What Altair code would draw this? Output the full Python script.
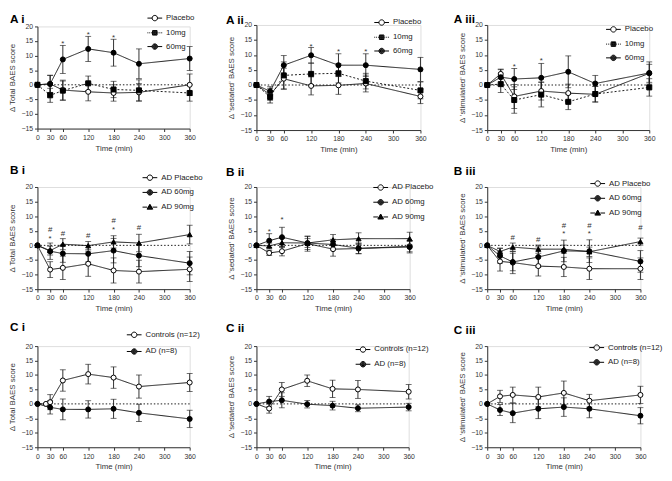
import altair as alt
import pandas as pd

# ---------------- data ----------------
TIMES = [0, 30, 60, 120, 180, 240, 360]
TIMES_CI_CONTROLS = [0, 20, 30, 60, 120, 180, 240, 360]
X_TICKS = [0, 30, 60, 120, 180, 240, 300, 360]
Y_TICKS = [-15, -10, -5, 0, 5, 10, 15, 20]

A_NAMES = ["Placebo", "10mg", "60mg"]
A_KINDS = ["open", "square", "filled"]
B_NAMES = ["AD Placebo", "AD 60mg", "AD 90mg"]
B_KINDS = ["open", "filled", "triangle"]
C_NAMES = ["Controls (n=12)", "AD (n=8)"]
C_KINDS = ["open", "filled"]

# A i  - total
AI_PLACEBO = [0, 0.3, -1.8, -2.4, -2.8, -2.6, 0.0]
AI_PLACEBO_SEM = [0, 3.0, 3.4, 3.1, 2.8, 3.0, 3.7]
AI_10MG = [0, -3.6, -2.0, 0.5, -1.6, -1.9, -2.8]
AI_10MG_SEM = [0, 2.4, 3.3, 2.5, 2.8, 3.6, 2.8]
AI_60MG = [0, 0.3, 8.7, 12.3, 11.0, 7.2, 9.0]
AI_60MG_SEM = [0, 2.9, 4.8, 4.3, 4.6, 5.1, 4.1]
AI_SIG_T = [60, 120, 180]
AI_SIG_Y = [14.8, 17.6, 16.6]
AI_SIG_TXT = ["*", "*", "*"]

# A ii - sedated
AII_PLACEBO = [0, -3.2, 2.1, -0.3, -0.1, 0.5, -3.8]
AII_PLACEBO_SEM = [0, 2.0, 3.5, 3.0, 3.0, 2.8, 2.4]
AII_10MG = [0, -4.0, 3.2, 3.7, 3.9, 1.3, -1.8]
AII_10MG_SEM = [0, 2.0, 4.5, 3.6, 3.2, 2.6, 2.8]
AII_60MG = [0, -2.1, 6.6, 9.9, 6.6, 6.6, 5.2]
AII_60MG_SEM = [0, 1.5, 3.2, 2.6, 3.8, 3.8, 4.0]
AII_SIG_T = [120, 180, 240]
AII_SIG_Y = [13.4, 11.6, 11.6]
AII_SIG_TXT = ["*", "*", "*"]

# A iii - stimulated
AIII_PLACEBO = [0, 3.7, -3.8, -2.0, -2.7, -3.1, 3.9]
AIII_PLACEBO_SEM = [0, 1.6, 4.0, 3.0, 3.0, 2.6, 3.0]
AIII_10MG = [0, 0.3, -5.0, -3.2, -5.6, -3.0, -0.8]
AIII_10MG_SEM = [0, 2.8, 4.4, 4.1, 2.6, 2.6, 2.9]
AIII_60MG = [0, 2.6, 2.0, 2.4, 4.4, 0.5, 4.0]
AIII_60MG_SEM = [0, 2.5, 3.5, 4.8, 5.3, 2.7, 3.7]
AIII_SIG_T = [60, 120]
AIII_SIG_Y = [6.7, 8.5]
AIII_SIG_TXT = ["*", "*"]

# B i  - total (AD)
BI_PLACEBO = [0, -8.3, -7.7, -6.3, -8.6, -9.0, -8.2]
BI_PLACEBO_SEM = [0, 2.7, 4.0, 4.3, 4.3, 3.9, 4.2]
BI_60MG = [0, -2.0, -2.8, -2.9, -1.8, -3.5, -6.1]
BI_60MG_SEM = [0, 2.8, 3.0, 2.8, 4.2, 3.8, 4.0]
BI_90MG = [0, -1.8, 0.4, -0.1, 1.2, 0.8, 3.7]
BI_90MG_SEM = [0, 1.5, 1.9, 1.4, 2.1, 3.0, 3.2]
BI_SIG_T = [30, 30, 60, 120, 180, 180, 240]
BI_SIG_Y = [5.8, 2.8, 4.5, 3.7, 9.0, 5.9, 6.6]
BI_SIG_TXT = ["#", "*", "#", "#", "#", "*", "#"]

# B ii - sedated (AD)
BII_PLACEBO = [0, -2.6, -2.0, 0.6, -1.3, -1.1, -0.3]
BII_PLACEBO_SEM = [0, 0.9, 1.6, 2.6, 2.4, 1.8, 1.9]
BII_60MG = [0, 1.6, 2.8, 0.8, 0.3, -1.0, -0.6]
BII_60MG_SEM = [0, 2.4, 3.4, 2.2, 1.8, 1.8, 2.0]
BII_90MG = [0, -0.2, 0.9, 0.8, 1.9, 2.3, 2.3]
BII_90MG_SEM = [0, 1.0, 1.5, 1.5, 1.8, 2.0, 2.2]
BII_SIG_T = [30, 60]
BII_SIG_Y = [5.3, 9.5]
BII_SIG_TXT = ["*", "*"]

# B iii - stimulated (AD)
BIII_PLACEBO = [0, -5.5, -5.9, -7.1, -7.4, -8.0, -8.0]
BIII_PLACEBO_SEM = [0, 3.3, 3.8, 3.4, 3.3, 3.7, 3.7]
BIII_60MG = [0, -3.6, -5.7, -4.0, -1.9, -2.0, -5.5]
BIII_60MG_SEM = [0, 2.5, 3.0, 3.5, 3.7, 3.9, 3.7]
BIII_90MG = [0, -2.1, -0.6, -1.3, -1.3, -2.2, 1.3]
BIII_90MG_SEM = [0, 1.2, 1.4, 1.4, 1.4, 1.6, 1.2]
BIII_SIG_T = [60, 120, 180, 180, 240, 240, 360]
BIII_SIG_Y = [3.3, 2.5, 7.4, 4.4, 7.4, 4.5, 6.7]
BIII_SIG_TXT = ["#", "#", "#", "*", "#", "*", "#"]

# C i  - total, controls vs AD
CI_CONTROLS = [0, 0.0, 0.6, 8.1, 10.3, 9.1, 6.0, 7.4]
CI_CONTROLS_SEM = [0, 0, 2.6, 3.7, 3.4, 3.7, 4.0, 3.1]
CI_AD = [0, -1.2, -1.9, -1.9, -1.7, -3.1, -5.2]
CI_AD_SEM = [0, 2.3, 3.6, 3.0, 3.3, 3.0, 3.0]

# C ii - sedated
CII_CONTROLS = [0, -1.6, 5.0, 8.0, 5.2, 5.0, 4.2]
CII_CONTROLS_SEM = [0, 1.6, 2.4, 2.0, 3.0, 3.1, 2.5]
CII_AD = [0, 0.8, 1.25, -0.1, -0.6, -1.5, -1.1]
CII_AD_SEM = [0, 1.8, 2.6, 1.3, 1.5, 1.2, 1.3]

# C iii - stimulated
CIII_CONTROLS = [0, 2.6, 3.1, 2.4, 3.8, 1.1, 3.1]
CIII_CONTROLS_SEM = [0, 2.1, 2.7, 3.4, 4.1, 2.2, 3.0]
CIII_AD = [0, -2.1, -3.2, -1.7, -1.1, -1.7, -4.1]
CIII_AD_SEM = [0, 1.9, 3.3, 3.4, 3.2, 3.1, 2.8]


# ---------------- legend symbol paths (unit box, line stub + marker) ----------------
def circ(r):
    return f"M{r},0A{r},{r},0,1,1,{-r},0A{r},{r},0,1,1,{r},0Z"


def sq(a):
    return f"M{-a},{-a}H{a}V{a}H{-a}Z"


def tri(k):
    return f"M0,{-0.6 * k}L{0.58 * k},{0.42 * k}H{-0.58 * k}Z"


SOLID = "M-1.5,0H-0.55M0.55,0H1.5"
DOTTED = "M-1.5,0H-1.32M-1.12,0H-0.94M-0.74,0H-0.56M0.56,0H0.74M0.94,0H1.12M1.32,0H1.5"
OPEN_CIRC = circ(0.55)
FULL_CIRC = "".join(circ(r) for r in [0.55, 0.42, 0.29, 0.16, 0.05])
FULL_SQR = "".join(sq(a) for a in [0.46, 0.33, 0.2, 0.07])
FULL_TRI = "".join(tri(k) for k in [1.0, 0.75, 0.5, 0.25])

KIND = {
    "open": dict(shape="circle", fill="white", dash=[1, 0], path=SOLID + OPEN_CIRC),
    "square": dict(shape="square", fill="black", dash=[2, 2], path=DOTTED + FULL_SQR),
    "filled": dict(shape="circle", fill="black", dash=[1, 0], path=SOLID + FULL_CIRC),
    "triangle": dict(shape="triangle-up", fill="black", dash=[1, 0], path=SOLID + FULL_TRI),
}

INK = "#1a1a1a"
AXC = "#333333"


def make_panel(title, dx, dy, ytitle, names, kinds, series, sig, leg, w, h, rowpad):
    rows = []
    for name, (ts, vs, es) in zip(names, series):
        for t, v, e in zip(ts, vs, es):
            rows.append({"s": name, "t": t, "v": v, "lo": v - e, "hi": v + e, "e": e})
    df = pd.DataFrame(rows)
    edf = df[df["e"] > 0]
    sdf = pd.DataFrame({"t": sig[0], "v": sig[1], "txt": sig[2]})

    xsc = alt.Scale(domain=[0, 360], nice=False, zero=False)
    ysc = alt.Scale(domain=[-15, 20], nice=False, zero=False)
    common = dict(grid=False, labelFlush=False, labelOverlap=False, tickSize=3, labelPadding=2,
                  titlePadding=4, labelFontSize=7, titleFontSize=8, titleFontWeight="normal",
                  domainColor=AXC, tickColor=AXC, labelColor=AXC, titleColor=AXC)
    xax = alt.Axis(values=X_TICKS, title="Time (min)", **common)
    yax = alt.Axis(values=Y_TICKS, title=ytitle, **common)

    def X(f="t"):
        return alt.X(f"{f}:Q", scale=xsc, axis=xax)

    def Y(f="v"):
        return alt.Y(f"{f}:Q", scale=ysc, axis=yax)

    zero = alt.Chart(pd.DataFrame({"z": [0]})).mark_rule(
        color=INK, strokeDash=[1.5, 2], strokeWidth=1).encode(y=Y("z"))
    bars = alt.Chart(edf).mark_rule(color=INK, strokeWidth=0.9).encode(
        x=X(), y=Y("lo"), y2="hi:Q")
    cap_lo = alt.Chart(edf).mark_tick(color=INK, orient="horizontal", size=6, thickness=0.9).encode(
        x=X(), y=Y("lo"))
    cap_hi = alt.Chart(edf).mark_tick(color=INK, orient="horizontal", size=6, thickness=0.9).encode(
        x=X(), y=Y("hi"))
    lines = alt.Chart(df).mark_line(color=INK, strokeWidth=1).encode(
        x=X(), y=Y(), detail="s:N",
        strokeDash=alt.StrokeDash("s:N", scale=alt.Scale(domain=names, range=[KIND[k]["dash"] for k in kinds]),
                                  legend=None))
    pts = alt.Chart(df).mark_point(opacity=1, stroke="black", strokeWidth=1, size=26).encode(
        x=X(), y=Y(),
        shape=alt.Shape("s:N", scale=alt.Scale(domain=names, range=[KIND[k]["shape"] for k in kinds]), legend=None),
        fill=alt.Fill("s:N", scale=alt.Scale(domain=names, range=[KIND[k]["fill"] for k in kinds]), legend=None))
    lg = alt.Legend(orient="none", legendX=leg[0], legendY=leg[1], title=None, labelFontSize=8,
                    labelColor="#222", labelFont="Arial", symbolSize=100, symbolStrokeColor="black",
                    symbolFillColor="white", symbolStrokeWidth=1, symbolOpacity=1, rowPadding=rowpad,
                    labelOffset=6, padding=0)
    legend_layer = alt.Chart(df).mark_point(opacity=0, color="black", filled=False, strokeWidth=1).encode(
        x=X(), y=Y(),
        shape=alt.Shape("s:N", scale=alt.Scale(domain=names, range=[KIND[k]["path"] for k in kinds]), legend=lg))
    sig_layer = alt.Chart(sdf).mark_text(fontSize=8, color="#333", baseline="middle", dy=2).encode(
        x=X(), y=Y(), text="txt:N")

    layer = alt.layer(zero, bars, cap_lo, cap_hi, lines, pts, legend_layer, sig_layer).resolve_scale(
        shape="independent", fill="independent")
    return layer.properties(
        width=w, height=h,
        title=alt.TitleParams(text=title, anchor="start", frame="group", dx=dx, dy=dy, offset=4,
                              fontSize=12, fontWeight="bold", font="Arial", color="black"))


YT = "\u0394 Total BAES score"
YS = "\u0394 'sedated' BAES score"
YM = "\u0394 'stimulated' BAES score"

ai = make_panel("A i", -28, 17, YT, A_NAMES, A_KINDS,
                [(TIMES, AI_PLACEBO, AI_PLACEBO_SEM), (TIMES, AI_10MG, AI_10MG_SEM), (TIMES, AI_60MG, AI_60MG_SEM)],
                (AI_SIG_T, AI_SIG_Y, AI_SIG_TXT), (114, -14), 155, 104, 4)
aii = make_panel("A ii", -31, 14, YS, A_NAMES, A_KINDS,
                 [(TIMES, AII_PLACEBO, AII_PLACEBO_SEM), (TIMES, AII_10MG, AII_10MG_SEM), (TIMES, AII_60MG, AII_60MG_SEM)],
                 (AII_SIG_T, AII_SIG_Y, AII_SIG_TXT), (122, -8), 167, 107, 4)
aiii = make_panel("A iii", -34, 8.5, YM, A_NAMES, A_KINDS,
                  [(TIMES, AIII_PLACEBO, AIII_PLACEBO_SEM), (TIMES, AIII_10MG, AIII_10MG_SEM), (TIMES, AIII_60MG, AIII_60MG_SEM)],
                  (AIII_SIG_T, AIII_SIG_Y, AIII_SIG_TXT), (123, -1), 165, 107, 4)

bi = make_panel("B i", -28, 9, YT, B_NAMES, B_KINDS,
                [(TIMES, BI_PLACEBO, BI_PLACEBO_SEM), (TIMES, BI_60MG, BI_60MG_SEM), (TIMES, BI_90MG, BI_90MG_SEM)],
                (BI_SIG_T, BI_SIG_Y, BI_SIG_TXT), (109, -15), 155, 104, 4)
bii = make_panel("B ii", -31, 1, YS, B_NAMES, B_KINDS,
                 [(TIMES, BII_PLACEBO, BII_PLACEBO_SEM), (TIMES, BII_60MG, BII_60MG_SEM), (TIMES, BII_90MG, BII_90MG_SEM)],
                 (BII_SIG_T, BII_SIG_Y, BII_SIG_TXT), (121, -5), 156, 104, 4)
biii = make_panel("B iii", -34, 4, YM, B_NAMES, B_KINDS,
                  [(TIMES, BIII_PLACEBO, BIII_PLACEBO_SEM), (TIMES, BIII_60MG, BIII_60MG_SEM), (TIMES, BIII_90MG, BIII_90MG_SEM)],
                  (BIII_SIG_T, BIII_SIG_Y, BIII_SIG_TXT), (107, -9), 156, 104, 4)

ci = make_panel("C i", -28, 9, YT, C_NAMES, C_KINDS,
                [(TIMES_CI_CONTROLS, CI_CONTROLS, CI_CONTROLS_SEM), (TIMES, CI_AD, CI_AD_SEM)],
                ([], [], []), (93, -17), 155, 103, 6)
cii = make_panel("C ii", -31, -3, YS, C_NAMES, C_KINDS,
                 [(TIMES, CII_CONTROLS, CII_CONTROLS_SEM), (TIMES, CII_AD, CII_AD_SEM)],
                 ([], [], []), (103, -2), 155, 103, 4)
ciii = make_panel("C iii", -34, -1, YM, C_NAMES, C_KINDS,
                  [(TIMES, CIII_CONTROLS, CIII_CONTROLS_SEM), (TIMES, CIII_AD, CIII_AD_SEM)],
                  ([], [], []), (106, -4), 156, 103, 4)

IND = dict(shape="independent", fill="independent", strokeDash="independent", x="independent", y="independent")

chart = alt.concat(ai, aii, aiii, bi, bii, biii, ci, cii, ciii, columns=3,
                   spacing={"row": 58, "column": 68}, bounds="flush", align="each",
                   center={"row": True, "column": False})
chart = chart.resolve_scale(**IND).resolve_legend(shape="independent")
chart = chart.properties(padding=0).configure_view(stroke=None).configure(font="Arial")

chart.save("out.html", embed_options={"renderer": "svg", "actions": False})
